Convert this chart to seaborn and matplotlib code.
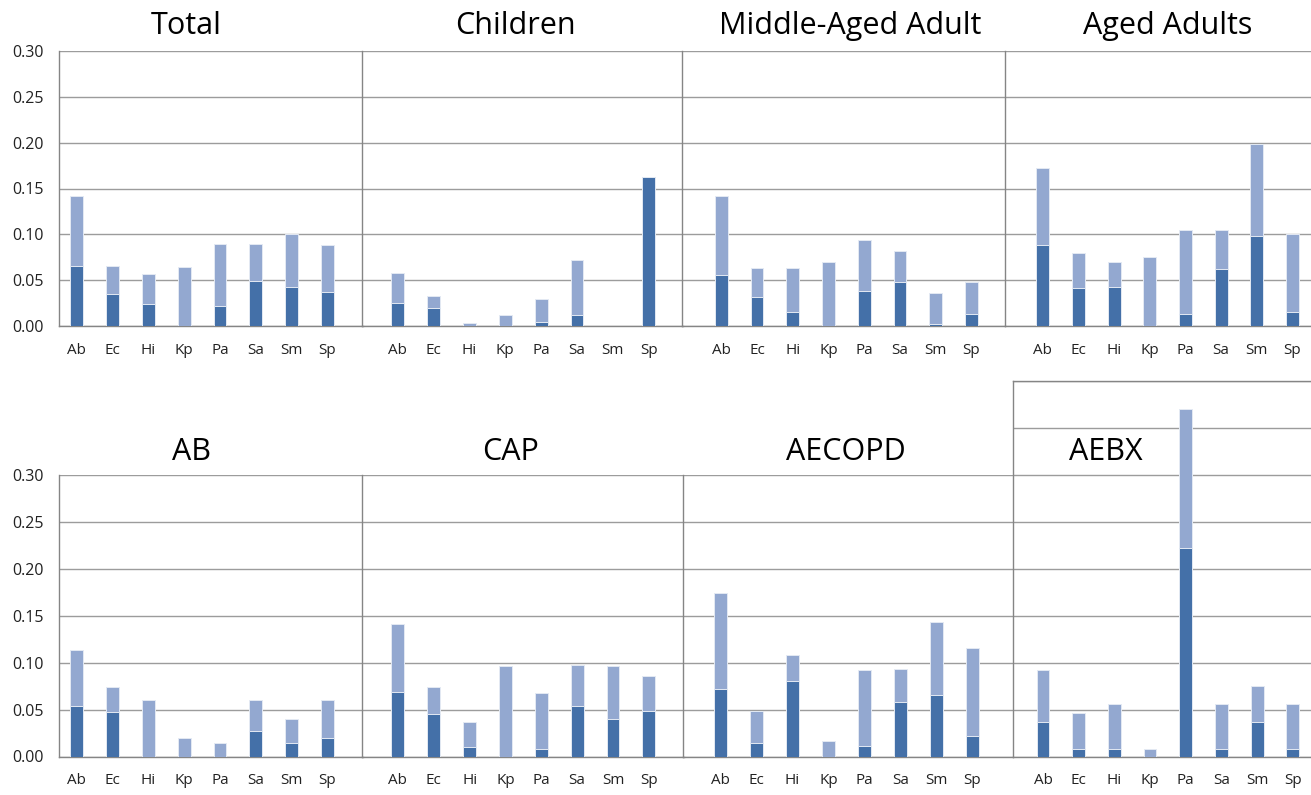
import numpy as np
import pandas as pd
import matplotlib
matplotlib.use("Agg")
import matplotlib.pyplot as plt
import seaborn as sns

# ---------------- data ----------------
categories = ["Ab", "Ec", "Hi", "Kp", "Pa", "Sa", "Sm", "Sp"]

titles = ["Total", "Children", "Middle-Aged Adult", "Aged Adults",
          "AB", "CAP", "AECOPD", "AEBX"]

# full bar height (light + dark)
total_total = [0.142, 0.066, 0.057, 0.064, 0.089, 0.090, 0.100, 0.088]
total_dark = [0.066, 0.035, 0.024, 0.000, 0.022, 0.049, 0.043, 0.037]

children_total = [0.058, 0.033, 0.003, 0.012, 0.029, 0.072, 0.000, 0.162]
children_dark = [0.025, 0.020, 0.000, 0.000, 0.004, 0.012, 0.000, 0.162]

middle_total = [0.142, 0.063, 0.063, 0.070, 0.094, 0.082, 0.036, 0.048]
middle_dark = [0.056, 0.032, 0.015, 0.000, 0.038, 0.048, 0.002, 0.013]

aged_total = [0.172, 0.080, 0.070, 0.075, 0.105, 0.105, 0.198, 0.100]
aged_dark = [0.088, 0.042, 0.043, 0.000, 0.013, 0.062, 0.098, 0.015]

ab_total = [0.114, 0.074, 0.060, 0.020, 0.014, 0.060, 0.040, 0.060]
ab_dark = [0.054, 0.047, 0.000, 0.000, 0.000, 0.027, 0.014, 0.020]

cap_total = [0.141, 0.074, 0.037, 0.096, 0.068, 0.098, 0.096, 0.086]
cap_dark = [0.069, 0.045, 0.010, 0.000, 0.008, 0.054, 0.040, 0.048]

aecopd_total = [0.174, 0.049, 0.108, 0.016, 0.092, 0.093, 0.143, 0.116]
aecopd_dark = [0.072, 0.014, 0.080, 0.000, 0.011, 0.058, 0.066, 0.022]

aebx_total = [0.092, 0.046, 0.056, 0.008, 0.370, 0.056, 0.075, 0.056]
aebx_dark = [0.037, 0.008, 0.008, 0.000, 0.222, 0.008, 0.037, 0.008]

yticks_main = [0.00, 0.05, 0.10, 0.15, 0.20, 0.25, 0.30]
yticks_aebx = [0.00, 0.05, 0.10, 0.15, 0.20, 0.25, 0.30, 0.35, 0.40]

panel_data = [
    (total_total, total_dark), (children_total, children_dark),
    (middle_total, middle_dark), (aged_total, aged_dark),
    (ab_total, ab_dark), (cap_total, cap_dark),
    (aecopd_total, aecopd_dark), (aebx_total, aebx_dark),
]

# ---------------- style ----------------
DARK = "#4470a8"
LIGHT = "#93a8d0"
EDGE = "#e3e9f3"
GRID = "#9c9c9c"
AXIS = "#858585"
TXT = "#222222"

sns.set_theme(style="white")
plt.rcParams["font.family"] = ["Open Sans", "DejaVu Sans"]

W, H = 1311, 795
fig = plt.figure(figsize=(W / 100, H / 100), dpi=100)
fig.patch.set_facecolor("white")

# pixel layout: (left, right, y_zero, y_top, xlim_left, xlim_right, ymax)
layout = [
    (59, 363, 326, 51, -0.50, 8.00, 0.30),
    (362, 683, 326, 51, -1.00, 7.96, 0.30),
    (682, 1005, 326, 51, -1.10, 7.94, 0.30),
    (1005, 1311, 326, 51, -1.06, 7.52, 0.30),
    (59, 363, 756.5, 475, -0.50, 8.00, 0.30),
    (362, 684, 756.5, 475, -1.00, 7.98, 0.30),
    (683, 1013, 756.5, 475, -1.05, 8.14, 0.30),
    (1013, 1311, 756.5, 381, -0.84, 7.51, 0.40),
]

# title centres / baselines in pixels
title_pos = [(186, 34), (515, 34), (850, 34), (1168, 34),
             (192, 460), (511, 460), (846, 460), (1106, 460)]

for i, ((tot, dk), (l, r, y0, yt, xl, xr, ymax)) in enumerate(zip(panel_data, layout)):
    ax = fig.add_axes([l / W, 1 - y0 / H, (r - l) / W, (y0 - yt) / H])
    df = pd.DataFrame({"pathogen": categories, "all": tot, "dark": dk})
    sns.barplot(data=df, x="pathogen", y="all", color=LIGHT, saturation=1,
                width=0.36, edgecolor=EDGE, linewidth=0.7, ax=ax, zorder=3)
    sns.barplot(data=df, x="pathogen", y="dark", color=DARK, saturation=1,
                width=0.36, edgecolor=EDGE, linewidth=0.7, ax=ax, zorder=4)
    ax.set_xlim(xl, xr)
    ax.set_ylim(0, ymax)
    ax.set_xlabel("")
    ax.set_ylabel("")
    ticks = yticks_aebx if ymax > 0.31 else yticks_main
    ax.set_yticks(ticks)
    ax.yaxis.grid(True, color=GRID, linewidth=1.0, zorder=0)
    ax.xaxis.grid(False)
    ax.set_axisbelow(True)

    # category boundary ticks
    ax.set_xticks(np.arange(-0.5, 8.0, 1.0), minor=True)
    ax.tick_params(axis="x", which="major", length=0, pad=12,
                   labelsize=11, labelcolor=TXT)
    ax.tick_params(axis="x", which="minor", length=4, width=1,
                   color=AXIS, direction="out")

    if i in (0, 4):
        ax.set_yticklabels([f"{t:.2f}" for t in ticks])
        ax.tick_params(axis="y", length=4, width=1, color=AXIS,
                       direction="out", pad=7, labelsize=11.5, labelcolor=TXT)
    else:
        ax.tick_params(axis="y", length=0, labelleft=False)

    for side in ("top", "right"):
        ax.spines[side].set_visible(False)
    for side in ("left", "bottom"):
        ax.spines[side].set_visible(True)
        ax.spines[side].set_color(AXIS)
        ax.spines[side].set_linewidth(1.0)
    if i == 7:
        ax.spines["top"].set_visible(True)
        ax.spines["top"].set_color(AXIS)
        ax.spines["top"].set_linewidth(1.0)
    ax.patch.set_alpha(0)

    tx, ty = title_pos[i]
    fig.text(tx / W, 1 - ty / H, titles[i], ha="center", va="baseline",
             fontsize=22, color="black")

fig.savefig("out.png", dpi=100, facecolor="white")
